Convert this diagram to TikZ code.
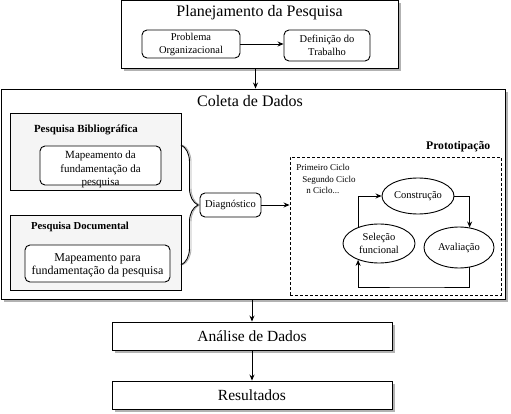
\documentclass[tikz,border=0pt]{standalone}
\usepackage{fontspec}
\setmainfont{Liberation Serif}
\usetikzlibrary{arrows.meta,shapes.geometric,shadows,decorations.pathreplacing}

\tikzset{
  shad/.style={drop shadow={shadow xshift=3pt,shadow yshift=-3pt,fill=black!30,opacity=1}},
  bigbox/.style={draw,fill=white,shad,inner sep=0pt},
  graybox/.style={draw,fill=black!4,inner sep=0pt},
  rbox/.style={draw,fill=white,rounded corners=5pt,inner sep=0pt,align=center,
    font=\fontsize{10.5}{13}\selectfont},
  ell/.style={ellipse,draw,fill=white,inner sep=0pt,align=center,
    font=\fontsize{10.5}{13}\selectfont},
  arr/.style={-{Stealth[length=6pt,width=5pt]}}
}

\begin{document}
\begin{tikzpicture}[x=1pt,y=-1pt,line width=0.9pt]
\useasboundingbox (0,0) rectangle (511,414);

% planejamento
\node[bigbox,minimum width=277,minimum height=68] (plan) at (259.5,34.5) {};
\node[font=\fontsize{16}{19}\selectfont] (plantitle) at (259.5,13) {Planejamento da Pesquisa};
\node[rbox,minimum width=98,minimum height=28] (prob) at (191,44) {Problema\\Organizacional};
\node[rbox,minimum width=86,minimum height=31] (defi) at (327,45.5) {Definição do\\Trabalho};
\draw[arr] (prob.east) -- (prob.east -| defi.west);

% coleta de dados
\node[bigbox,minimum width=504,minimum height=210] (coleta) at (253,194) {};
\node[font=\fontsize{16}{19}\selectfont] (coltitle) at (250,101) {Coleta de Dados};
\draw[arr] ([xshift=-4pt]plan.south) -- ([xshift=-4pt]plan.south |- coleta.north);

\node[graybox,minimum width=171,minimum height=77] (bib) at (95.5,151.5) {};
\node[font=\fontsize{10.9}{12}\selectfont\bfseries] (bibtitle) at (86,129.5) {Pesquisa Bibliográfica};
\node[rbox,minimum width=121,minimum height=39] (bibmap) at (100.5,165.5) {};
\node[align=center,inner sep=0pt,font=\fontsize{11}{13.5}\selectfont] (bibtext) at (100.5,169.5) {Mapeamento da\\fundamentação da\\pesquisa};

\node[graybox,minimum width=171,minimum height=75] (doc) at (95.5,252.5) {};
\node[font=\fontsize{10.7}{12}\selectfont\bfseries] (doctitle) at (80,226.5) {Pesquisa Documental};
\node[rbox,minimum width=145,minimum height=37] (docmap) at (97.5,263.5) {};
\node[align=center,inner sep=0pt,font=\fontsize{12}{13.5}\selectfont] (doctext) at (97.5,265.5) {Mapeamento para\\fundamentação da pesquisa};

% chave
\coordinate (bracetop) at (181,145);
\coordinate (bracebot) at (181,265);
\draw[black!30,decorate,decoration={brace,amplitude=17pt}] ([xshift=1.5pt]bracetop) -- ([xshift=1.5pt]bracebot);
\draw[decorate,decoration={brace,amplitude=17pt}] (bracetop) -- (bracebot);
\node[rbox,minimum width=61,minimum height=24] (diag) at (230.5,205) {Diagnóstico};

% prototipacao
\node[draw,dash pattern=on 3pt off 2pt,minimum width=211,minimum height=138] (proto) at (395.5,226) {};
\node[font=\fontsize{11.7}{13}\selectfont\bfseries,anchor=east] (prototitle) at (494,147) {Prototipação};
\draw[arr] (diag.east) -- (diag.east -| proto.west);
\node[align=left,anchor=north west,inner sep=0pt,font=\fontsize{9}{11.5}\selectfont] (ciclos) at (296,164) {Primeiro Ciclo\\\hspace*{6pt}Segundo Ciclo\\\hspace*{10pt}n Ciclo...};

\node[ell,minimum width=72,minimum height=36] (cons) at (418,196) {Construção};
\node[ell,minimum width=70,minimum height=41] (aval) at (459,247.5) {Avaliação};
\node[ell,minimum width=72,minimum height=39] (sel) at (379,243.5) {Seleção\\funcional};
\coordinate (loopbot) at (420,287);
\draw[arr] (cons.east) -| (aval.62);
\draw[arr] (aval.-62) |- (loopbot) -| (sel.-142);
\draw[arr] (sel.142) |- (cons.west);

% analise e resultados
\node[bigbox,minimum width=280,minimum height=28,font=\fontsize{15.5}{18}\selectfont] (anal) at (252,336) {Análise de Dados};
\node[bigbox,minimum width=280,minimum height=28,font=\fontsize{15.5}{18}\selectfont] (resu) at (252,395) {Resultados};
\draw[arr] (anal.north |- coleta.south) -- (anal.north);
\draw[arr] (anal.south) -- (resu.north);
\end{tikzpicture}
\end{document}
